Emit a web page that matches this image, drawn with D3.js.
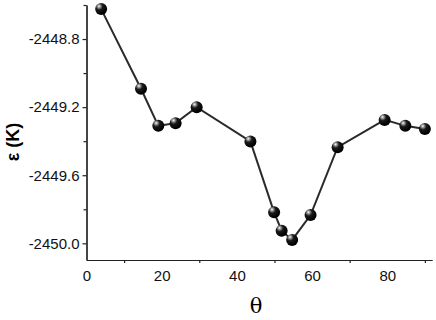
<!DOCTYPE html>
<html>
<head>
<meta charset="utf-8">
<script src="https://cdn.jsdelivr.net/npm/d3@7"></script>
<style>
  body { margin: 0; background: #fff; }
  .axis text { font-family: "Liberation Sans", Arial, sans-serif; font-size: 15px; fill: #111; }
  .axis path, .axis line { stroke: #222; stroke-width: 1.2; }
</style>
</head>
<body>
<div id="chart"></div>
<script>
// theta (deg) and energy epsilon (K)
var theta = [3.9, 14.5, 19.1, 23.7, 29.3, 43.6, 49.9, 51.9, 54.7, 59.6, 66.8, 79.3, 84.8, 90.0];
var eps = [-2448.624, -2449.092, -2449.31, -2449.294, -2449.2, -2449.402, -2449.818,
           -2449.926, -2449.98, -2449.834, -2449.435, -2449.275, -2449.31, -2449.328];
var xTicks = [0, 20, 40, 60, 80];
var yTicks = [-2448.8, -2449.2, -2449.6, -2450.0];

function drawChart(){
  var margin = {top: 5, right: 4, bottom: 60, left: 86.5},
      width = 436 - margin.left - margin.right,
      height = 320 - margin.top - margin.bottom;

  var svg = d3.select("#chart")
      .append("svg")
        .attr("width", 436)
        .attr("height", 320);

  var defs = svg.append("defs");
  var grad = defs.append("radialGradient")
      .attr("id", "ball")
      .attr("cx", "35%").attr("cy", "30%").attr("r", "65%")
      .attr("fx", "32%").attr("fy", "26%");
  grad.append("stop").attr("offset", "0%").attr("stop-color", "#ffffff");
  grad.append("stop").attr("offset", "18%").attr("stop-color", "#9a9a9a");
  grad.append("stop").attr("offset", "45%").attr("stop-color", "#1a1a1a");
  grad.append("stop").attr("offset", "100%").attr("stop-color", "#000000");

  var g = svg.append("g")
      .attr("transform", "translate(" + margin.left + "," + margin.top + ")");

  var x = d3.scaleLinear().domain([0, 91.9]).range([0, width]),
      y = d3.scaleLinear().domain([-2450.098, -2448.6]).range([height, 0]);

  // plain hyphen minus like the original
  var yFmt = function(d){ return d.toFixed(1); };

  // minor ticks
  g.append("g")
      .attr("class", "axis")
      .attr("transform", "translate(0," + height + ")")
      .call(d3.axisBottom(x).tickValues([10, 30, 50, 70, 90]).tickSize(3).tickFormat("").tickSizeOuter(0));
  g.append("g")
      .attr("class", "axis")
      .call(d3.axisLeft(y).tickValues([-2448.6, -2449.0, -2449.4, -2449.8]).tickSize(3).tickFormat("").tickSizeOuter(0));

  // major ticks
  g.append("g")
      .attr("class", "axis")
      .attr("transform", "translate(0," + height + ")")
      .call(d3.axisBottom(x).tickValues(xTicks).tickSize(0).tickPadding(10).tickSizeOuter(0));
  g.append("g")
      .attr("class", "axis")
      .call(d3.axisLeft(y).tickValues(yTicks).tickSize(4).tickPadding(3)
            .tickFormat(yFmt).tickSizeOuter(0));

  var pts = theta.map(function(t, i){ return {t: t, e: eps[i]}; });

  var line = d3.line()
      .x(function(d){ return x(d.t); })
      .y(function(d){ return y(d.e); });

  g.append("path")
      .datum(pts)
      .attr("fill", "none")
      .attr("stroke", "#2a2a2a")
      .attr("stroke-width", 2)
      .attr("d", line);

  g.selectAll(".dot")
      .data(pts)
    .enter().append("circle")
      .attr("class", "dot")
      .attr("cx", function(d){ return x(d.t); })
      .attr("cy", function(d){ return y(d.e); })
      .attr("r", 6)
      .attr("fill", "url(#ball)");

  // axis titles
  svg.append("text")
      .attr("transform", "translate(19,142) rotate(-90)")
      .attr("text-anchor", "middle")
      .style("font-family", "'Liberation Sans', Arial, sans-serif")
      .style("font-weight", "bold")
      .style("font-size", "18px")
      .text("ε (K)");

  svg.append("text")
      .attr("x", 256)
      .attr("y", 313)
      .attr("text-anchor", "middle")
      .style("font-family", "'DejaVu Serif', 'Liberation Serif', serif")
      .style("font-size", "21px")
      .text("θ");
}

drawChart();
</script>
</body>
</html>
